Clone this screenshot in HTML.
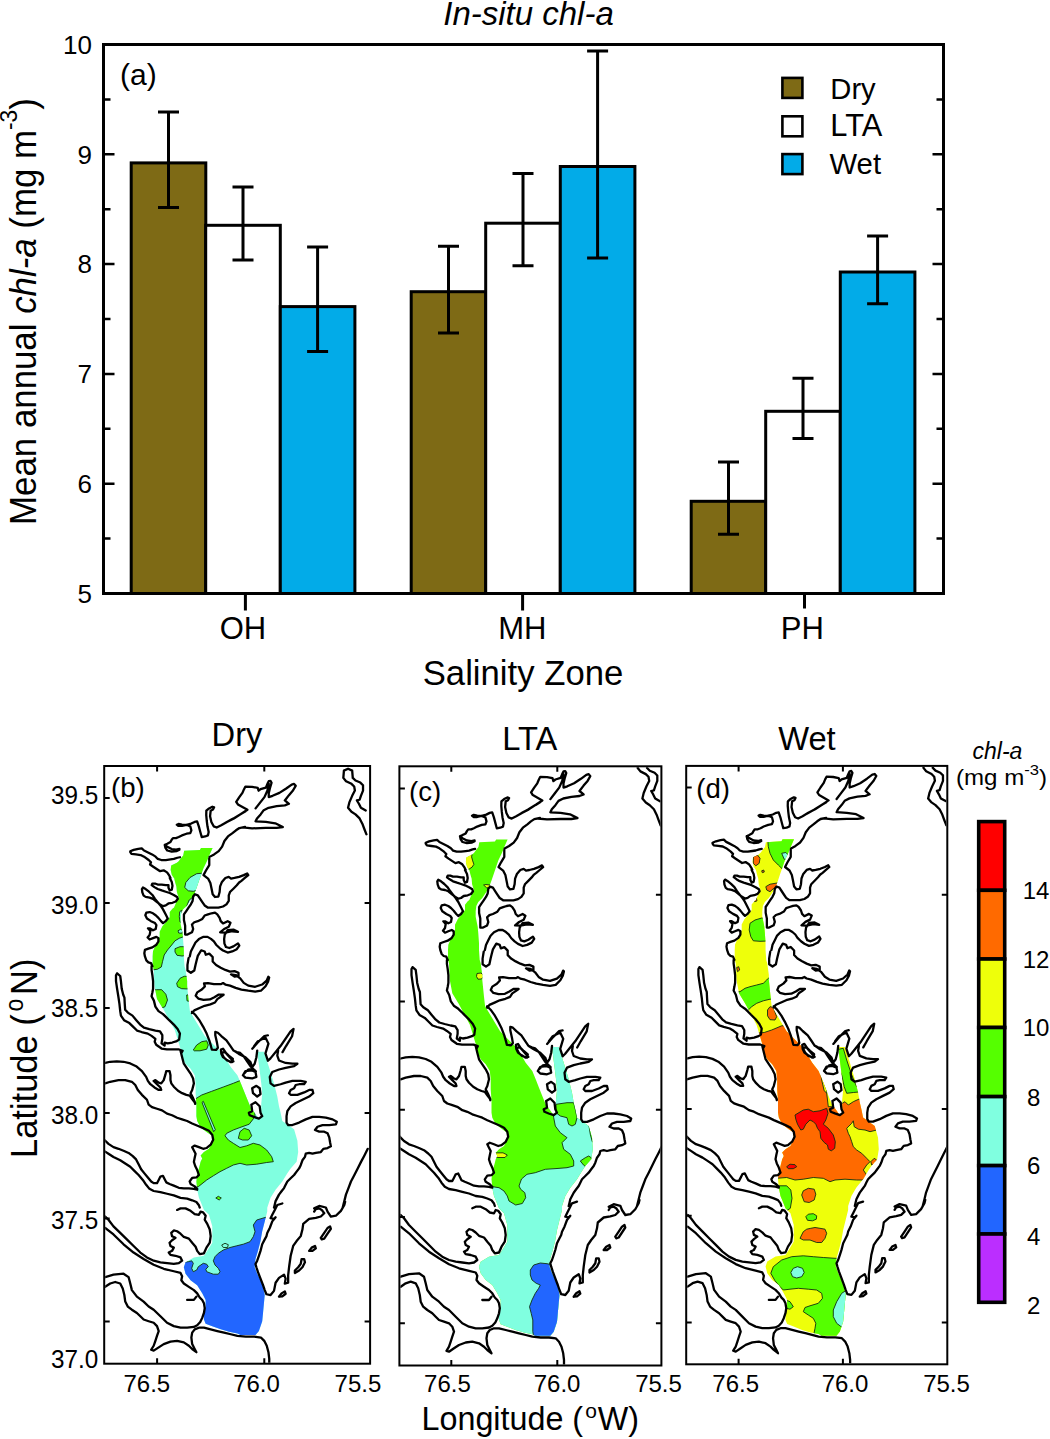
<!DOCTYPE html>
<html><head><meta charset="utf-8"><style>html,body{margin:0;padding:0;background:#fff;width:1050px;height:1439px;overflow:hidden}svg text{font-family:"Liberation Sans",sans-serif}</style></head><body>
<svg width="1050" height="1439" viewBox="0 0 1050 1439" style="position:absolute;left:0;top:0">
<rect width="1050" height="1439" fill="#fff"/>
<rect x="131.2" y="162.9" width="74.6" height="430.6" fill="#7E6A15" stroke="#000" stroke-width="3"/>
<rect x="205.7" y="225.3" width="74.6" height="368.2" fill="#fff" stroke="#000" stroke-width="3"/>
<rect x="280.3" y="306.6" width="74.6" height="286.9" fill="#02ABE8" stroke="#000" stroke-width="3"/>
<path d="M168.5 111.9V207.6M158.0 111.9h21M158.0 207.6h21" stroke="#000" stroke-width="3" fill="none"/>
<path d="M243.0 186.9V260.0M232.5 186.9h21M232.5 260.0h21" stroke="#000" stroke-width="3" fill="none"/>
<path d="M317.6 247.1V351.4M307.1 247.1h21M307.1 351.4h21" stroke="#000" stroke-width="3" fill="none"/>
<rect x="411.2" y="291.7" width="74.6" height="301.8" fill="#7E6A15" stroke="#000" stroke-width="3"/>
<rect x="485.7" y="223.2" width="74.6" height="370.3" fill="#fff" stroke="#000" stroke-width="3"/>
<rect x="560.3" y="166.5" width="74.6" height="427.0" fill="#02ABE8" stroke="#000" stroke-width="3"/>
<path d="M448.5 246.2V332.9M438.0 246.2h21M438.0 332.9h21" stroke="#000" stroke-width="3" fill="none"/>
<path d="M523.0 173.6V265.7M512.5 173.6h21M512.5 265.7h21" stroke="#000" stroke-width="3" fill="none"/>
<path d="M597.6 51.0V257.9M587.1 51.0h21M587.1 257.9h21" stroke="#000" stroke-width="3" fill="none"/>
<rect x="691.2" y="501.3" width="74.6" height="92.2" fill="#7E6A15" stroke="#000" stroke-width="3"/>
<rect x="765.7" y="411.3" width="74.6" height="182.2" fill="#fff" stroke="#000" stroke-width="3"/>
<rect x="840.3" y="272.0" width="74.6" height="321.5" fill="#02ABE8" stroke="#000" stroke-width="3"/>
<path d="M728.5 462.1V534.3M718.0 462.1h21M718.0 534.3h21" stroke="#000" stroke-width="3" fill="none"/>
<path d="M803.0 378.3V438.6M792.5 378.3h21M792.5 438.6h21" stroke="#000" stroke-width="3" fill="none"/>
<path d="M877.6 236.0V303.8M867.1 236.0h21M867.1 303.8h21" stroke="#000" stroke-width="3" fill="none"/>
<rect x="103.5" y="44.5" width="840" height="549" fill="none" stroke="#000" stroke-width="3"/>
<path d="M103.5 538.6h7M943.5 538.6h-7M103.5 483.7h11M943.5 483.7h-11M103.5 428.8h7M943.5 428.8h-7M103.5 373.9h11M943.5 373.9h-11M103.5 319.0h7M943.5 319.0h-7M103.5 264.1h11M943.5 264.1h-11M103.5 209.2h7M943.5 209.2h-7M103.5 154.3h11M943.5 154.3h-11M103.5 99.4h7M943.5 99.4h-7" stroke="#000" stroke-width="2.5" fill="none"/>
<path d="M245.4 593.5V610.5M522.6 593.5V610.5M804.5 593.5V608.5" stroke="#000" stroke-width="3" fill="none"/>
<text x="92" y="602.7" font-family="Liberation Sans, sans-serif" font-size="26" text-anchor="end">5</text>
<text x="92" y="492.9" font-family="Liberation Sans, sans-serif" font-size="26" text-anchor="end">6</text>
<text x="92" y="383.1" font-family="Liberation Sans, sans-serif" font-size="26" text-anchor="end">7</text>
<text x="92" y="273.3" font-family="Liberation Sans, sans-serif" font-size="26" text-anchor="end">8</text>
<text x="92" y="163.5" font-family="Liberation Sans, sans-serif" font-size="26" text-anchor="end">9</text>
<text x="92" y="53.7" font-family="Liberation Sans, sans-serif" font-size="26" text-anchor="end">10</text>
<text x="243" y="639" font-family="Liberation Sans, sans-serif" font-size="31" text-anchor="middle">OH</text>
<text x="522.4" y="639" font-family="Liberation Sans, sans-serif" font-size="31" text-anchor="middle">MH</text>
<text x="802.4" y="639" font-family="Liberation Sans, sans-serif" font-size="31" text-anchor="middle">PH</text>
<text x="523" y="684.5" font-family="Liberation Sans, sans-serif" font-size="34.7" text-anchor="middle">Salinity Zone</text>
<text x="528.5" y="24.7" font-family="Liberation Sans, sans-serif" font-size="33" font-style="italic" text-anchor="middle">In-situ chl-a</text>
<text x="120" y="84.7" font-family="Liberation Sans, sans-serif" font-size="30">(a)</text>
<text transform="translate(35.8,524.9) rotate(-90) scale(0.968,1)" font-family="Liberation Sans, sans-serif" font-size="36">Mean annual <tspan font-style="italic">chl-a</tspan> (mg m<tspan dy="-18.5" font-size="23.5">-3</tspan><tspan dy="18.5">)</tspan></text>
<rect x="782.4" y="77.9" width="20" height="20" fill="#7E6A15" stroke="#000" stroke-width="2.6"/>
<text x="830.3" y="99.3" font-family="Liberation Sans, sans-serif" font-size="29.2">Dry</text>
<rect x="782.4" y="116.3" width="20" height="20" fill="#fff" stroke="#000" stroke-width="2.6"/>
<text x="830.3" y="135.7" font-family="Liberation Sans, sans-serif" font-size="30.8">LTA</text>
<rect x="782.4" y="154.1" width="20" height="20" fill="#02ABE8" stroke="#000" stroke-width="2.6"/>
<text x="829.5" y="173.7" font-family="Liberation Sans, sans-serif" font-size="29.3">Wet</text>
<defs>
<path id="coast" d="M520.0 814.0 528.1 809.5 536.2 804.5 542.3 800.5 532.8 795.1 531.1 792.4 534.2 787.6 537.3 783.3 538.9 779.5 540.3 776.8 547.0 777.1 552.5 778.2 553.4 781.1 555.4 779.5 560.6 777.9 562.2 774.1 563.5 771.4 565.2 771.1 566.3 773.0 564.6 778.8 563.5 783.6 563.5 787.6 567.3 786.3 574.1 783.3 580.9 778.8 586.3 774.8 588.7 774.1 590.3 776.1 587.6 780.9 583.6 785.6 579.5 791.0 583.6 794.4 579.5 796.0 571.4 796.8 563.3 798.5 558.5 800.9 555.4 805.2 551.8 809.3 550.4 812.3 560.6 812.9 570.0 814.3 577.5 818.1 571.4 819.0 560.6 819.0 547.0 819.4 537.6 818.5M550.4 799.1 554.5 793.7 559.2 787.6 562.2 780.9 563.5 774.1M637.7 768.0 640.4 771.4 645.8 774.1 648.5 776.8 649.2 780.9 646.5 786.3 643.7 793.0 642.4 798.5 645.8 802.5 649.8 805.2 653.9 809.3 656.6 814.7 658.6 820.1 660.7 825.5M647.1 768.0 649.8 770.7 654.6 772.8 657.3 775.5 657.3 780.9 655.2 786.3 653.9 790.3 651.2 791.0 653.2 794.4 655.2 798.5 660.0 801.2M474.6 840.3 471.4 841.1 466.9 840.5 462.5 838.2 460.0 836.3 460.7 839.4 462.5 842.0 466.9 843.1 472.0 842.6 474.6 841.2M460.0 836.3 462.5 835.1 465.7 833.4 466.9 831.1 468.2 829.4 471.2 829.4 473.9 828.3 477.1 826.6 481.7 824.9 485.4 824.3 486.5 821.4 485.4 817.4 482.3 816.1 477.1 815.7 473.7 814.9 472.0 815.7 473.5 817.0 477.1 817.0 481.7 815.8 486.3 814.6 489.7 812.9 492.2 812.4 493.9 817.4 495.4 823.1 496.8 828.3 500.2 827.7 503.0 826.6 503.7 823.1 502.5 817.4 501.8 811.7 501.3 806.0 501.4 801.4 504.1 799.1 507.4 797.4 509.1 798.0 508.0 800.3 505.7 801.4 505.1 807.1 506.4 812.9 508.7 817.4 511.7 818.6 516.2 816.3 521.9 812.9 528.8 809.4 535.7 804.9 540.0 802.3M425.7 842.8 429.1 841.4 433.7 840.3 437.1 839.8 439.4 842.0 442.9 843.7 447.4 846.0 450.9 848.3 453.1 850.6 456.6 851.7 461.1 851.7 465.7 851.1 469.1 850.6 472.6 849.4 475.1 848.9M425.7 843.7 426.9 845.4 431.4 846.0 436.0 846.6 439.4 848.3 444.0 851.7 446.3 854.0 445.4 856.3 448.6 858.6 452.0 860.9 455.4 863.1 458.9 862.2 462.3 864.3 464.6 867.7 465.7 870.0M540.0 818.0 534.3 819.1 530.9 821.4 527.4 824.3 522.9 827.7 519.4 832.3 517.1 838.0 513.7 842.6 509.1 846.0 504.6 848.5M548.9 1041.3 552.7 1036.3 560.2 1032.5 563.2 1038.8 560.2 1048.8 562.7 1056.3 565.2 1053.8 575.2 1041.3 585.2 1026.3 588.2 1023.8 586.7 1031.3 580.7 1041.3 577.2 1047.5M400.7 1058.5 405.7 1057.3 412.3 1056.8 419.0 1057.3 425.7 1059.0 431.5 1061.8 437.3 1066.8 441.5 1072.7 443.2 1076.8 445.7 1080.2 449.8 1083.5 454.0 1086.0 456.5 1086.0 455.7 1083.5 452.3 1080.2 449.0 1076.8 450.7 1076.0 454.0 1078.5 456.5 1079.3 459.0 1076.0 460.7 1070.2 461.5 1066.8 464.8 1066.8 465.7 1071.0 465.7 1076.0 466.5 1079.3 469.0 1082.7 473.2 1086.8 477.3 1089.3 481.5 1091.0 484.8 1091.8 487.3 1095.2 489.8 1098.5 490.3 1100.2M475.7 1046.0 477.3 1052.7 479.0 1059.3 482.3 1064.3 485.7 1069.3 488.2 1074.3 489.0 1079.3 487.3 1086.0 485.7 1089.3 488.2 1094.3 490.3 1099.3M400.7 1079.3 405.7 1077.7 414.0 1076.0 420.7 1076.0 427.3 1077.7 430.7 1081.0 433.2 1086.0 437.3 1091.0 442.3 1096.0 444.0 1101.0 447.3 1103.5 452.3 1105.2 457.3 1106.8 462.3 1110.2 467.3 1111.8 472.3 1114.3 477.3 1116.0 482.3 1117.7 487.3 1120.2 493.2 1122.7 499.0 1125.2 504.0 1127.7 507.3 1131.8 508.2 1136.8 505.7 1141.8 501.5 1145.2 498.2 1146.0 494.0 1144.3 489.8 1142.7 487.3 1144.3 489.0 1147.7 490.7 1151.0 489.8 1155.2 489.0 1159.3 490.3 1163.5 492.3 1167.7 494.0 1172.7 491.5 1175.2 487.3 1175.7 484.8 1179.3 485.7 1181.8 489.8 1184.3 492.3 1186.8M399.0 1136.0 404.0 1141.0 409.0 1144.3 414.0 1146.0 419.0 1148.0 424.0 1150.2 428.2 1153.5 431.5 1156.8 434.0 1161.8 436.5 1166.8 439.8 1171.0 443.2 1175.2 446.5 1179.3 449.0 1181.0 452.3 1181.0 454.0 1177.7 455.7 1174.3 458.2 1173.5 459.8 1176.8 461.5 1180.2 464.8 1181.8 469.0 1183.5 474.0 1185.7 479.0 1186.3 484.0 1186.3 489.0 1186.8 492.3 1187.7M399.0 1147.7 404.0 1151.0 409.0 1154.3 415.7 1157.7 420.7 1161.0 425.7 1164.3 429.8 1168.5 434.0 1172.7 438.2 1177.7 441.5 1182.7 444.8 1186.8 449.0 1189.0 455.7 1190.2 462.3 1191.8 469.0 1193.5 475.7 1196.0 482.3 1196.8 487.3 1198.5 491.5 1200.2 494.0 1203.5 494.8 1206.0M572.8 1046.0 572.0 1051.0 573.7 1056.0 580.3 1058.5 587.0 1059.3 592.0 1059.3 588.7 1061.8 580.3 1063.5 573.7 1065.2 567.0 1067.7 564.5 1072.7 565.3 1079.3 568.7 1081.8 575.3 1080.2 580.3 1078.5 587.0 1076.8 595.3 1076.8 600.3 1077.7 598.7 1080.2 593.7 1080.2 590.3 1081.0 588.7 1084.3 585.3 1086.0 583.7 1089.3 585.3 1091.0 592.0 1091.0 598.7 1088.5 603.7 1086.0 607.0 1086.0 607.8 1089.3 603.7 1092.7 597.0 1096.0 590.3 1099.3 585.3 1102.7 582.0 1107.7 581.2 1112.7 581.2 1119.3 582.8 1121.8 587.0 1121.8 593.7 1119.3 600.3 1116.0 607.0 1113.5 613.7 1113.5 620.3 1114.3 627.0 1116.0 631.2 1118.5 630.3 1121.0 623.7 1121.8 617.0 1121.8 612.0 1123.5 609.5 1126.8 613.7 1128.5 618.7 1128.5 622.0 1130.2 623.7 1134.3 624.5 1139.3 625.3 1143.5 622.0 1145.2 617.8 1146.0 615.3 1149.3 610.3 1150.2 607.0 1151.0 603.7 1150.2 600.3 1151.0 599.5 1154.3 597.0 1157.7 595.3 1162.7 593.7 1166.0 591.2 1169.3 588.7 1172.7 585.3 1176.0 582.0 1179.3 580.3 1182.7 578.7 1186.0 576.2 1189.3 573.7 1192.7 572.0 1196.0 570.3 1199.3 569.5 1202.7 568.7 1206.0M662.0 1146.0 658.7 1152.7 655.3 1159.3 652.0 1166.0 648.7 1172.7 645.3 1179.3 642.8 1186.0 640.3 1192.7 638.7 1199.3 637.0 1206.0M400.7 1215.0 404.0 1218.3 409.0 1225.0 415.7 1231.7 422.3 1238.3 429.0 1245.0 435.7 1251.7 442.3 1256.7 449.0 1260.0 455.7 1261.7 462.3 1262.5 469.0 1263.3 474.0 1262.5 477.3 1260.0 475.7 1256.7 470.7 1255.0 465.7 1254.2 464.0 1251.7 467.3 1250.0 469.0 1246.7 465.7 1245.0 464.8 1241.7 467.3 1239.2 470.7 1236.7 467.3 1235.0 466.5 1231.7 469.0 1229.2 472.3 1230.0 475.7 1232.5 479.0 1235.8 484.0 1237.5 487.3 1241.7 490.7 1245.8 492.3 1250.0 494.8 1253.3 499.0 1252.5 501.5 1246.7 504.8 1241.7 505.7 1235.0 504.8 1228.3 502.3 1222.5 499.8 1218.3 500.7 1214.2 498.2 1210.8 495.7 1210.0 494.0 1213.3 489.8 1212.5 485.7 1209.2 480.7 1206.7 475.7 1206.7 472.3 1208.3M400.7 1226.7 409.0 1233.3 419.0 1243.3 429.0 1251.7 439.0 1258.3 449.0 1264.2 459.0 1268.3 469.0 1270.8 475.7 1272.5 477.3 1275.8 476.5 1280.0 479.0 1283.3 484.0 1286.7 489.0 1290.0 492.3 1293.3 494.8 1297.5 497.3 1300.0 499.0 1303.3 499.8 1308.3 499.0 1313.3 497.3 1318.3 495.3 1322.5 492.3 1325.8 489.0 1327.5 482.3 1328.3 475.7 1328.3 469.0 1326.7 462.3 1323.3 455.7 1316.7 449.0 1310.0 444.0 1306.7 439.0 1301.7 432.3 1296.7 427.3 1290.0 425.7 1283.3 424.0 1276.7 419.0 1273.3 409.0 1274.2 400.7 1276.7M400.7 1286.7 405.7 1283.3 410.7 1281.7 415.7 1283.3 418.2 1288.3 419.8 1295.0 420.7 1301.7 423.2 1306.7 427.3 1310.0 432.3 1313.3 435.7 1316.7 439.0 1320.0 444.0 1321.7 449.0 1323.3 452.3 1326.7 454.0 1331.7 452.3 1336.7 450.7 1341.7 449.0 1346.7 446.5 1350.8 449.0 1351.7 454.0 1348.3 459.0 1345.0 465.7 1342.5 472.3 1341.7 479.0 1343.3 484.0 1346.7 487.3 1350.0 491.5 1353.3 489.8 1350.0 487.3 1345.0 486.5 1338.3 487.3 1333.3 489.8 1330.0 494.0 1328.3 499.0 1328.3 505.7 1330.0 512.3 1331.7 519.0 1333.3 525.7 1335.0 532.3 1336.7 540.7 1337.5 549.0 1337.5 555.7 1338.3 559.0 1341.7 561.5 1346.7 563.2 1353.3 564.0 1360.0 564.0 1365.0M482.3 1300.0 489.0 1300.0 491.5 1296.7M577.0 1201.7 572.0 1203.3 569.5 1208.3 567.0 1213.3 565.3 1216.7 568.7 1217.5 570.3 1215.8 567.0 1220.0 564.5 1226.7 562.0 1231.7 561.2 1235.0 559.5 1238.3 557.0 1243.3 555.3 1250.0 553.7 1255.0 552.0 1260.0 550.3 1263.3 551.2 1266.7 552.8 1271.7 555.3 1278.3 557.8 1285.0 559.5 1290.0 561.2 1294.2 565.3 1295.0 568.7 1290.8 570.3 1282.5 573.7 1277.5 578.7 1274.2 580.3 1278.3 579.5 1283.3 582.8 1282.5 582.8 1275.0 583.7 1266.7 585.3 1255.0 587.8 1245.0 591.2 1240.0 595.3 1235.0 597.0 1228.3 597.8 1222.5 603.7 1217.5 610.3 1216.3 615.3 1215.0 618.7 1211.7 616.2 1208.3 613.7 1206.7 610.3 1207.5 608.7 1210.0M608.7 1206.7 613.7 1204.2 620.3 1205.8 622.0 1210.0 625.3 1215.0 630.3 1214.2 635.3 1209.2 638.7 1203.3 639.5 1200.0M615.3 1236.7 618.7 1231.7 622.0 1226.7 624.5 1225.0 625.3 1227.5 622.0 1232.5 618.7 1237.5 616.2 1238.3 615.3 1236.7M603.7 1250.0 606.2 1246.7 609.5 1245.0 610.3 1247.5 607.0 1250.0 603.7 1250.0M589.5 1272.5 593.7 1270.0 597.0 1266.7 599.5 1261.7 598.7 1258.3 596.2 1258.3 595.3 1263.3 592.8 1266.7 589.5 1270.0 589.5 1272.5M573.7 1296.7 576.2 1293.3 579.5 1291.3 580.3 1293.7 577.0 1296.3 573.7 1296.7M465.0 870.0 467.0 874.0 467.7 878.0 467.0 882.0 465.0 882.7 463.7 880.0 463.7 877.3 461.0 877.3 457.0 876.7 453.0 876.7 450.3 875.7 447.7 875.7 447.0 877.3 449.7 879.3 453.0 881.3 457.0 882.7 461.0 884.0 465.0 885.3 469.0 887.3 472.3 889.3 473.0 891.3 471.0 894.0 467.7 895.3 463.7 896.0 461.0 898.0 458.3 898.7 455.0 896.7 451.7 894.0 448.3 891.3 445.0 890.0 441.0 889.3 439.0 888.0 437.7 884.7 437.3 881.3 438.3 879.7 441.0 881.3 444.3 884.0 447.7 887.3 450.3 891.3 453.0 894.7 455.7 898.0 458.3 902.0 461.0 907.3 463.0 911.3 461.0 914.0 458.3 916.0 456.3 914.0 453.7 910.7 451.0 908.0 448.3 906.0 445.0 904.7 441.7 905.3 440.7 908.0 442.3 911.3 446.3 914.0 450.3 916.0 451.7 918.0 451.0 922.0 448.3 923.3 445.0 921.3 443.3 921.3 445.7 924.0 445.0 928.0 443.0 930.7 445.0 932.7 448.3 931.3 451.7 930.0 453.7 931.3 453.7 934.7 451.7 938.0 447.7 940.7 443.7 942.0 440.3 943.3 439.7 946.7 440.3 950.0 441.7 954.0 443.7 956.0 446.3 956.7 447.7 960.0M412.6 967.2 411.5 969.1 411.5 975.2 412.6 982.9 413.8 990.5 414.9 998.1 415.7 1005.7 416.4 1010.3 419.5 1014.9 424.8 1017.9 427.9 1021.0 432.4 1025.5 437.0 1027.0 443.1 1028.6 446.9 1030.9 450.7 1033.9 450.0 1037.0 451.5 1040.0 456.8 1043.8 462.1 1044.6 473.6 1044.6 477.8 1046.1 476.6 1048.4M412.6 967.2 415.7 969.9 416.4 975.2 417.2 982.9 418.7 989.0 419.9 992.0 420.2 998.1 420.6 1004.2 423.3 1007.2 427.9 1010.3 431.7 1014.9 435.5 1019.4 439.3 1022.5 444.6 1024.0 450.7 1025.5 455.3 1026.3 457.6 1030.1 457.6 1033.9 456.8 1038.5 459.9 1040.8 459.9 1037.7 462.9 1038.5 467.5 1037.7 472.0 1036.2 474.3 1034.7 475.1 1028.6 472.8 1024.0 469.0 1019.4 464.4 1014.9 461.4 1011.8 458.3 1008.8 453.8 1005.7 450.7 1001.1 449.2 995.0 446.9 990.5 447.7 986.7 448.4 982.9 448.4 975.2 447.7 969.1 446.9 963.8 446.9 960.0M516.2 1047.7 518.7 1052.7 522.0 1056.0 527.0 1057.7 527.8 1054.3 523.7 1051.0 520.3 1047.7 516.2 1047.7M528.7 1046.0 533.7 1049.3 540.3 1052.7 545.3 1057.7 547.0 1062.7 549.5 1059.3 551.2 1052.7 552.0 1046.0M537.8 1071.0 540.3 1066.8 546.2 1066.0 550.3 1067.7 551.2 1072.7 547.0 1074.3 540.3 1073.5 537.8 1071.0M547.0 1084.3 551.2 1081.8 554.5 1084.3 555.3 1090.2 552.0 1092.7 547.8 1089.3 547.0 1084.3M546.2 1101.0 550.3 1098.5 554.5 1102.7 555.3 1109.3 557.0 1112.7 553.7 1115.2 548.7 1113.5 544.5 1111.8 543.7 1109.3 547.0 1107.7 546.2 1101.0M487.1 1006.3 490.6 1009.7 494.9 1015.7 498.3 1021.7 501.7 1028.6 504.3 1035.4 506.0 1041.4 506.9 1044.9 511.1 1045.3 512.9 1043.1 512.0 1038.0 510.3 1030.3 510.3 1026.9 512.9 1027.7 516.3 1031.1 521.4 1035.4 524.9 1040.6 528.3 1045.7 531.7 1047.4 535.1 1048.3 538.6 1051.7 542.0 1056.9 545.4 1062.0 547.1 1063.7 550.6 1067.1M515.9 1044.9 518.0 1044.0 521.4 1049.1 526.6 1055.1 528.3 1056.9 525.7 1057.7 521.4 1055.1 518.0 1052.6 516.3 1049.1 515.9 1044.9M547.1 1044.0 552.3 1038.0 559.1 1031.1 562.6 1030.3M538.6 1069.7 542.9 1065.4 547.1 1064.6 550.6 1067.1M504.3 850.0 504.3 856.9 500.9 862.6 498.6 867.1 503.1 870.6 505.4 875.1 506.6 880.9 507.7 886.6 510.0 889.4 513.4 888.9 514.6 884.3 515.1 878.6 516.9 874.0 520.3 870.0 523.7 868.9 526.0 870.6 529.4 870.0 534.0 868.9 538.6 867.1 542.0 865.4 543.1 867.1 539.7 870.0 536.3 872.9 534.0 874.6 531.7 877.4 528.3 880.9 524.9 884.3 523.7 887.7 523.7 893.4 521.4 896.9 518.0 899.1 513.4 900.3 507.7 900.3 503.1 900.3 499.7 898.0 497.4 894.6 495.1 891.1 492.9 887.7 490.0 886.6 488.3 888.9 487.7 893.4 486.0 896.9 483.7 900.3 481.4 903.7 479.1 907.1 479.1 912.9 480.3 918.6 480.3 924.3 480.3 927.7 482.6 927.7 487.1 925.4 488.3 922.0 487.1 917.4 489.4 915.1 492.9 914.0 497.4 911.7 499.7 908.3 503.1 907.1 506.6 906.0 510.0 905.4 512.3 907.1 514.6 910.6 515.7 914.0 518.0 916.3 522.6 914.0 525.4 915.7 523.7 919.7 519.1 922.0 515.1 925.4 520.3 925.7 527.1 924.3 532.9 924.9 528.3 922.6 522.6 923.1 519.7 927.7 519.1 932.3 519.4 936.9 520.9 940.3 524.3 941.4 528.3 939.7 532.9 936.6 534.2 938.9 531.7 942.6 527.1 944.9 522.6 946.0 518.0 943.9 514.6 941.4 511.1 938.0 508.9 934.6 506.0 932.1 502.6 930.0 498.6 930.0 494.0 932.3 490.6 935.7 488.3 940.3 486.0 944.9 484.9 950.0M483.7 951.7 482.6 958.6 482.6 964.3 486.0 966.6 489.4 964.3 490.6 958.6 491.7 954.0 492.9 949.4 496.3 943.7 499.7 944.9 500.9 948.3 504.3 947.1 507.7 950.6 507.7 955.1 511.1 958.6 515.7 961.4 520.3 963.7 524.9 965.4 529.4 964.9 533.4 966.6 533.4 970.0 529.4 970.6 526.0 968.3 530.6 968.9 535.1 972.3 538.6 976.9 543.1 979.7 550.0 980.9 556.9 978.6 561.4 974.6 563.1 970.6 563.9 971.4 562.8 975.7 560.3 980.3 555.7 984.9 550.0 985.8 543.1 984.9 536.3 983.7 530.6 982.0 524.9 979.7 520.3 978.6 518.0 977.1 515.7 978.2 508.9 978.2 503.1 977.1 499.1 977.4 499.9 980.5 496.9 983.7 492.3 986.6 490.8 990.0 493.4 992.9 498.6 994.2 504.9 993.8 509.4 991.5 513.4 989.0 518.6 989.0 515.7 991.1 512.3 993.4 510.0 996.9 505.4 998.8 499.7 1000.3 494.6 1002.6 489.4 1004.9 487.1 1007.7M647.1 768.0 646.5 760.6 642.4 758.6 638.3 760.6 637.7 768.0" fill="none" stroke="#000" stroke-width="2.3" stroke-linejoin="round" stroke-linecap="round"/>
<path id="domain" d="M479.3 842.3 495.0 841.4 496.1 839.4 507.6 839.4 504.7 846.0 501.9 852.9 498.4 860.3 496.1 867.1 493.9 873.4 491.6 880.3 489.3 886.6 486.3 892.0 482.3 898.0 478.3 902.0 476.3 906.0 475.7 911.3 475.7 916.7 477.7 926.7 478.3 933.3 479.0 943.3 479.0 950.0 479.7 960.0 480.7 963.3 482.3 975.0 482.3 980.0 484.0 996.7 485.1 1006.2 500.1 1031.3 517.6 1048.8 525.7 1062.7 532.3 1071.0 535.7 1079.3 539.0 1087.7 542.3 1096.0 545.7 1104.3 550.7 1111.0 554.0 1116.0 556.0 1112.0 556.0 1100.0 557.0 1090.0 556.0 1079.0 554.0 1063.0 552.0 1047.0 558.7 1047.0 563.7 1062.7 568.7 1079.3 572.0 1092.7 573.7 1102.7 575.3 1109.3 577.0 1117.7 588.7 1126.0 592.0 1137.7 592.8 1149.3 591.2 1159.3 585.3 1166.0 582.0 1171.0 577.0 1179.3 570.3 1187.7 565.3 1196.0 562.0 1206.0 562.0 1210.0 559.5 1220.0 557.0 1230.0 555.3 1240.0 552.8 1250.0 550.3 1258.3 549.5 1266.7 552.0 1273.3 555.3 1280.0 557.8 1286.7 559.5 1295.0 558.7 1303.3 557.8 1313.3 557.0 1321.7 553.7 1331.7 550.3 1335.8 535.3 1335.8 532.3 1334.2 524.0 1332.5 515.7 1330.0 507.3 1326.7 500.7 1324.2 499.0 1320.0 499.0 1313.3 500.7 1306.7 500.7 1300.0 497.3 1293.3 492.3 1285.0 485.7 1280.0 480.7 1273.3 479.0 1266.7 480.7 1261.7 489.0 1256.7 499.0 1255.0 502.3 1250.0 507.3 1241.7 507.3 1225.0 504.0 1213.3 499.0 1208.3 495.7 1200.0 494.0 1196.0 492.3 1187.7 491.5 1179.3 492.3 1172.7 494.0 1166.0 495.7 1159.3 497.3 1156.0 495.7 1152.7 499.0 1149.3 504.0 1146.0 507.3 1139.3 507.3 1132.7 502.3 1129.3 495.7 1124.3 492.3 1117.7 491.5 1112.7 491.5 1101.0 490.7 1089.3 490.7 1079.3 489.8 1071.0 485.7 1064.3 480.7 1059.3 477.3 1052.7 476.3 1046.0 470.0 1025.0 458.8 1004.0 452.3 993.3 449.8 980.0 449.0 963.3 448.0 960.0 448.0 950.0 448.3 944.7 450.3 940.0 453.0 935.3 455.0 930.0 455.0 924.7 457.7 919.3 461.0 915.3 465.0 910.0 465.0 904.7 467.7 901.3 469.3 900.0 471.6 894.6 473.9 890.0 472.1 884.3 471.6 878.6 470.4 874.6 469.3 870.0 468.7 869.4 467.0 866.6 465.9 862.0 466.4 857.4 472.1 854.6 473.9 852.9 476.1 850.0 478.4 847.1Z"/>
<clipPath id="frc"><rect x="400.4" y="767.3" width="260" height="597.2"/></clipPath>
<clipPath id="frb"><rect x="105.2" y="767" width="263.9" height="595.7"/></clipPath>
<clipPath id="frd"><rect x="687.2" y="766.9" width="259.1" height="596.4"/></clipPath>
<clipPath id="dc"><use href="#domain"/></clipPath>
<clipPath id="db"><use href="#domain" transform="matrix(1.005 0 0 0.9813 -297.56 24.24)"/></clipPath>
<clipPath id="dd"><use href="#domain" transform="matrix(0.995 0 0 1 288.96 -0.1)"/></clipPath>
</defs>
<g clip-path="url(#frb)">
<use href="#domain" transform="matrix(1.005 0 0 0.9813 -297.56 24.24)" fill="#80FFE0"/>
<g clip-path="url(#db)">
<path d="M181.7 845.0 215.0 845.0 215.0 894.2 197.5 895.8 192.5 897.5 189.2 900.0 187.5 904.2 185.3 910.0 183.0 916.7 182.0 923.3 182.7 930.0 183.7 936.7 179.2 938.3 175.0 940.8 171.7 945.0 167.5 950.0 164.2 955.0 162.5 961.7 161.3 967.0 157.5 969.2 146.7 970.8 146.7 845.0Z" fill="#55FF00" stroke="#103010" stroke-width="0.9"/>
<path d="M184.7 887.5 185.8 882.5 190.0 877.5 196.7 873.7 211.7 872.5 211.7 886.7 197.5 890.0 193.3 891.3 188.3 890.8Z" fill="#80FFE0" stroke="#103010" stroke-width="0.9"/>
<path d="M178.0 930.8 180.8 929.2 183.0 930.8 181.7 933.3 178.7 933.0Z" fill="#80FFE0" stroke="#103010" stroke-width="0.9"/>
<path d="M179.7 911.7 181.7 910.3 182.7 916.7 181.7 922.7 180.0 922.0 179.3 916.7Z" fill="#80FFE0" stroke="#103010" stroke-width="0.9"/>
<path d="M175.0 948.7 180.0 946.7 190.0 946.7 190.0 955.0 182.0 956.0 177.0 955.3 175.0 952.0Z" fill="#55FF00" stroke="#103010" stroke-width="0.9"/>
<path d="M176.7 983.3 180.0 978.3 184.2 976.3 193.3 976.3 193.3 989.2 181.7 988.7 177.5 986.7Z" fill="#55FF00" stroke="#103010" stroke-width="0.9"/>
<path d="M156.7 989.7 161.7 989.7 165.8 994.2 167.5 1000.0 165.0 1006.7 160.0 1008.7 146.7 1008.7 146.7 989.7Z" fill="#55FF00" stroke="#103010" stroke-width="0.9"/>
<path d="M186.7 995.0 193.3 994.2 193.3 1002.5 187.0 1000.8Z" fill="#55FF00" stroke="#103010" stroke-width="0.9"/>
<path d="M193.3 1050.0 196.7 1045.0 201.7 1041.7 206.7 1040.8 208.3 1045.0 206.7 1049.2 200.0 1050.8 194.2 1050.8Z" fill="#55FF00" stroke="#103010" stroke-width="0.9"/>
<path d="M195.0 1099.2 201.7 1095.0 211.7 1091.3 223.3 1087.0 233.3 1083.3 240.8 1080.3 253.3 1078.3 255.0 1116.7 249.2 1124.2 240.0 1127.5 233.3 1130.0 226.7 1133.3 225.0 1135.8 228.3 1140.0 233.3 1143.3 240.0 1147.5 246.7 1145.8 253.3 1143.3 260.0 1145.0 266.7 1150.0 271.7 1156.7 273.3 1161.7 266.7 1162.5 256.7 1164.2 246.7 1165.0 240.0 1163.3 233.3 1165.0 226.7 1168.3 220.0 1171.7 213.3 1175.8 206.7 1180.0 198.3 1186.7 186.7 1188.3 186.7 1099.2Z" fill="#55FF00" stroke="#103010" stroke-width="0.9"/>
<path d="M202.0 1102.5 203.3 1101.3 215.3 1129.7 213.7 1131.7Z" fill="#80FFE0" stroke="#103010" stroke-width="0.9"/>
<path d="M238.3 1138.3 240.0 1131.7 244.2 1128.3 249.2 1130.0 251.7 1135.8 248.3 1140.0 242.5 1140.0Z" fill="#55FF00" stroke="#103010" stroke-width="0.9"/>
<path d="M215.8 1198.0 218.3 1196.3 221.3 1198.0 219.2 1200.0Z" fill="#55FF00" stroke="#103010" stroke-width="0.9"/>
<path d="M276.7 1215.0 265.0 1217.5 256.7 1220.0 253.3 1225.0 255.0 1231.7 253.3 1236.7 250.0 1241.7 243.3 1244.2 236.7 1245.8 230.0 1247.5 223.3 1250.0 218.3 1253.3 215.0 1256.7 213.3 1260.8 215.0 1265.0 218.3 1268.3 220.0 1271.7 218.3 1274.2 213.3 1274.2 206.7 1271.7 205.8 1269.2 208.3 1266.7 206.7 1264.2 203.3 1263.3 198.3 1266.7 196.7 1270.0 193.3 1271.7 191.7 1268.3 193.3 1263.3 191.7 1260.8 188.3 1261.7 173.3 1263.3 173.3 1353.3 281.7 1353.3 281.7 1215.0Z" fill="#2266FF" stroke="#103010" stroke-width="0.9"/>
<path d="M221.7 1245.0 225.0 1243.3 228.3 1244.7 227.5 1247.5 223.3 1247.5Z" fill="#80FFE0" stroke="#103010" stroke-width="0.9"/>
</g>
<use href="#coast" transform="matrix(1.005 0 0 0.9813 -297.56 24.24)"/>
</g>
<g clip-path="url(#frc)">
<use href="#domain" fill="#55FF00"/>
<g clip-path="url(#dc)">
<path d="M470.0 1186.8 493.2 1186.8 499.0 1187.7 504.0 1191.0 507.3 1196.0 509.0 1201.0 515.7 1205.0 522.3 1203.5 525.7 1197.7 524.8 1192.7 520.7 1189.3 519.0 1186.0 521.5 1179.0 527.0 1174.3 535.3 1172.7 545.3 1169.3 557.0 1168.5 567.0 1167.7 573.7 1166.0 573.7 1161.0 570.3 1154.3 563.7 1149.3 562.0 1142.7 567.0 1137.7 560.3 1132.7 555.3 1126.0 553.7 1117.7 551.5 1100.0 549.0 1040.0 600.0 1040.0 620.0 1200.0 620.0 1360.0 470.0 1360.0Z" fill="#80FFE0" stroke="#103010" stroke-width="0.9"/>
<path d="M556.0 1104.3 567.0 1102.7 573.7 1102.7 575.3 1109.3 577.0 1117.7 575.3 1124.3 572.0 1126.0 568.7 1124.3 567.0 1117.7 560.3 1116.0 556.0 1112.7Z" fill="#55FF00" stroke="#103010" stroke-width="0.9"/>
<path d="M589.0 1126.0 591.2 1126.3 592.8 1134.3 593.7 1142.7 592.3 1141.8 590.3 1134.3Z" fill="#55FF00" stroke="#103010" stroke-width="0.9"/>
<path d="M580.3 1161.0 585.3 1157.7 588.7 1156.0 591.2 1157.7 592.0 1162.7 590.3 1166.0 587.0 1167.7 583.7 1165.2Z" fill="#55FF00" stroke="#103010" stroke-width="0.9"/>
<path d="M472.1 854.6 471.6 856.9 472.7 860.9 473.9 864.3 472.1 867.1 468.7 869.4 460.0 869.0 460.0 854.0Z" fill="#EEFF0A" stroke="#103010" stroke-width="0.9"/>
<path d="M483.6 885.0 486.0 884.5 490.0 885.0 490.0 888.0 486.5 887.7Z" fill="#EEFF0A" stroke="#103010" stroke-width="0.9"/>
<path d="M477.0 973.5 481.0 973.0 484.0 976.0 481.5 979.0 478.0 979.2 476.5 976.5Z" fill="#EEFF0A" stroke="#103010" stroke-width="0.9"/>
<path d="M490.0 1153.0 503.0 1152.8 507.3 1155.0 505.0 1157.5 498.0 1157.5 490.0 1156.0Z" fill="#EEFF0A" stroke="#103010" stroke-width="0.9"/>
<path d="M530.3 1270.0 533.7 1265.0 540.3 1263.0 547.0 1263.7 560.0 1266.7 570.0 1300.0 565.0 1345.0 535.3 1345.0 532.8 1331.7 532.8 1320.0 531.2 1313.3 529.5 1306.7 532.0 1300.0 535.3 1293.3 538.7 1288.3 540.3 1285.0 536.2 1283.3 532.0 1280.0 530.3 1275.0Z" fill="#2266FF" stroke="#103010" stroke-width="0.9"/>
</g>
<use href="#coast"/>
</g>
<g clip-path="url(#frd)">
<use href="#domain" transform="matrix(0.995 0 0 1 288.96 -0.1)" fill="#EEFF0A"/>
<g clip-path="url(#dd)">
<path d="M767.5 836.7 800.0 835.0 800.0 871.7 784.2 870.8 778.3 865.0 773.3 860.0 770.0 853.3 768.3 846.7Z" fill="#55FF00" stroke="#103010" stroke-width="0.9"/>
<path d="M781.7 853.3 785.8 852.5 788.3 855.0 786.7 860.0 784.2 859.2Z" fill="#80FFE0" stroke="#103010" stroke-width="0.9"/>
<path d="M753.3 856.7 757.5 855.0 760.0 858.3 759.2 863.3 755.8 865.8 753.3 863.3Z" fill="#FF6A00" stroke="#103010" stroke-width="0.9"/>
<path d="M765.8 886.7 770.0 884.2 780.0 882.5 780.0 887.5 773.3 888.7 770.0 891.7 766.7 890.0Z" fill="#FF6A00" stroke="#103010" stroke-width="0.9"/>
<path d="M761.7 870.8 763.7 870.0 764.3 872.0 762.3 872.7Z" fill="#FF6A00" stroke="#103010" stroke-width="0.9"/>
<path d="M754.2 899.2 756.3 897.5 757.0 900.8 754.7 901.7Z" fill="#FF6A00" stroke="#103010" stroke-width="0.9"/>
<path d="M736.7 967.5 738.7 966.7 739.7 970.0 737.5 971.7Z" fill="#FF6A00" stroke="#103010" stroke-width="0.9"/>
<path d="M750.0 923.3 755.0 920.0 761.7 918.0 773.3 918.0 773.3 940.8 760.0 941.3 753.3 940.8 750.8 936.7 749.2 930.0Z" fill="#55FF00" stroke="#103010" stroke-width="0.9"/>
<path d="M740.0 991.7 745.0 988.3 750.0 986.7 756.7 985.0 763.3 983.3 766.7 980.0 770.0 976.7 780.0 976.7 780.0 999.2 770.0 999.2 763.3 1000.8 756.7 1003.3 751.7 1006.7 748.3 1010.0 745.0 1013.3 726.7 1013.3 726.7 991.7Z" fill="#55FF00" stroke="#103010" stroke-width="0.9"/>
<path d="M767.5 1010.0 770.0 1006.7 773.3 1007.5 776.7 1016.7 775.0 1020.0 770.0 1019.7 767.5 1015.8Z" fill="#FF6A00" stroke="#103010" stroke-width="0.9"/>
<path d="M745.0 1034.2 764.2 1032.5 771.7 1030.0 781.7 1025.8 803.3 1025.0 820.0 1071.7 822.0 1073.3 826.7 1093.3 828.3 1106.7 836.7 1106.7 845.0 1101.7 848.3 1105.0 853.3 1101.7 860.8 1098.3 873.3 1093.3 873.3 1116.7 886.7 1126.7 886.7 1130.0 876.7 1130.0 870.0 1131.7 865.0 1130.0 858.3 1129.2 854.2 1126.7 853.3 1120.8 851.7 1123.3 846.7 1128.3 848.3 1133.3 850.0 1136.7 851.7 1141.7 853.3 1146.7 856.7 1150.0 861.7 1153.3 866.7 1158.3 870.0 1161.7 866.7 1165.0 863.3 1170.0 866.7 1175.0 863.3 1180.0 856.7 1180.0 845.0 1179.2 835.0 1180.0 830.0 1181.7 823.3 1178.3 813.3 1177.5 803.3 1179.2 795.0 1180.0 786.7 1177.5 776.7 1178.3 745.0 1179.2Z" fill="#FF6A00" stroke="#103010" stroke-width="0.9"/>
<path d="M820.8 1073.3 822.5 1071.7 826.7 1086.7 827.0 1093.3 824.2 1090.8 821.7 1080.0Z" fill="#EEFF0A" stroke="#103010" stroke-width="0.9"/>
<path d="M795.0 1115.0 803.3 1110.0 808.3 1109.2 813.3 1111.7 820.0 1110.8 826.7 1108.3 828.0 1113.3 825.8 1120.0 823.3 1124.2 828.3 1128.3 833.3 1135.0 835.3 1141.7 834.7 1148.3 831.3 1150.8 828.3 1149.2 827.5 1145.0 824.2 1142.5 820.8 1138.3 820.0 1131.7 817.5 1128.3 815.8 1124.2 813.3 1121.7 810.0 1120.0 805.8 1124.2 803.3 1129.2 800.8 1130.0 797.5 1124.2 795.8 1119.2Z" fill="#FF0000" stroke="#103010" stroke-width="0.9"/>
<path d="M786.7 1166.7 790.0 1164.2 795.0 1164.7 796.7 1166.7 793.3 1168.7 788.3 1168.7Z" fill="#FF0000" stroke="#103010" stroke-width="0.9"/>
<path d="M835.0 1050.0 843.3 1048.3 846.7 1060.0 851.7 1075.0 856.7 1086.7 861.7 1091.7 853.3 1092.5 846.7 1093.3 844.2 1086.7 841.7 1075.0 836.7 1063.3Z" fill="#55FF00" stroke="#103010" stroke-width="0.9"/>
<path d="M870.8 1161.7 874.2 1158.3 876.7 1160.0 875.0 1164.2 871.7 1165.0Z" fill="#FF6A00" stroke="#103010" stroke-width="0.9"/>
<path d="M780.0 1185.8 786.7 1185.8 790.8 1190.0 792.0 1198.3 790.3 1208.3 786.7 1210.8 770.0 1210.8 770.0 1185.8Z" fill="#55FF00" stroke="#103010" stroke-width="0.9"/>
<path d="M801.7 1195.0 803.3 1190.8 808.3 1188.3 814.2 1189.2 815.8 1194.2 814.2 1200.0 809.2 1202.5 804.2 1201.7Z" fill="#FF6A00" stroke="#103010" stroke-width="0.9"/>
<path d="M805.8 1216.7 808.3 1214.2 813.3 1213.7 816.7 1215.8 816.3 1219.2 812.5 1220.8 807.5 1220.3Z" fill="#55FF00" stroke="#103010" stroke-width="0.9"/>
<path d="M800.0 1238.3 803.3 1231.7 806.7 1229.2 810.8 1228.3 815.0 1227.5 820.0 1228.3 825.0 1229.2 826.7 1233.3 825.0 1238.3 821.7 1242.5 816.7 1242.5 810.0 1240.0 803.3 1240.0Z" fill="#FF6A00" stroke="#103010" stroke-width="0.9"/>
<path d="M770.8 1273.3 773.3 1266.7 781.7 1260.0 791.7 1256.7 803.3 1255.8 813.3 1256.7 823.3 1257.5 835.0 1258.3 853.3 1258.3 853.3 1336.7 813.3 1336.7 815.0 1328.3 815.8 1323.3 813.3 1318.3 808.3 1315.0 803.3 1311.7 805.0 1307.5 810.0 1305.8 818.3 1303.3 822.5 1298.3 821.7 1293.3 816.7 1290.0 808.3 1289.2 798.3 1288.3 790.0 1289.2 783.3 1290.0 780.0 1286.7 775.0 1280.8Z" fill="#55FF00" stroke="#103010" stroke-width="0.9"/>
<path d="M790.8 1272.5 793.3 1268.3 797.5 1266.7 802.5 1268.3 804.2 1272.5 801.7 1276.7 796.7 1278.0 792.5 1276.7Z" fill="#80FFE0" stroke="#103010" stroke-width="0.9"/>
<path d="M833.3 1310.0 836.7 1301.7 841.7 1293.3 846.7 1290.0 853.3 1290.0 853.3 1330.0 843.3 1328.3 836.7 1323.3 833.3 1316.7Z" fill="#80FFE0" stroke="#103010" stroke-width="0.9"/>
<path d="M785.8 1300.0 790.0 1301.7 793.3 1306.7 790.0 1309.2 786.3 1308.3Z" fill="#55FF00" stroke="#103010" stroke-width="0.9"/>
</g>
<use href="#coast" transform="matrix(0.995 0 0 1 288.96 -0.1)"/>
</g>
<path d="M104.2 797.9h5.5M104.2 903h5.5M370.1 903h-5.5M104.2 1008h5.5M104.2 1113h5.5M370.1 1113h-5.5M104.2 1218.5h5.5M104.2 1321.5h5.5M370.1 1321.5h-5.5M157.1 766v5.5M157.1 1363.7v-5.5M264.3 766v5.5M264.3 1363.7v-5.5" stroke="#000" stroke-width="2" fill="none"/>
<path d="M399.4 788.4h5.5M399.4 894.8h5.5M661.4 894.8h-5.5M399.4 1001.6h5.5M399.4 1109.7h5.5M661.4 1109.7h-5.5M399.4 1217h5.5M399.4 1323.3h5.5M661.4 1323.3h-5.5M451.3 766.3v5.5M451.3 1365.5v-5.5M557.3 766.3v5.5M557.3 1365.5v-5.5" stroke="#000" stroke-width="2" fill="none"/>
<path d="M686.2 787.6h5.5M686.2 894.8h5.5M947.3 894.8h-5.5M686.2 1001.6h5.5M686.2 1108.9h5.5M947.3 1108.9h-5.5M686.2 1215.7h5.5M686.2 1322.5h5.5M947.3 1322.5h-5.5M738.6 765.9v5.5M738.6 1364.3v-5.5M842.9 765.9v5.5M842.9 1364.3v-5.5" stroke="#000" stroke-width="2" fill="none"/>
<rect x="104.2" y="766" width="265.9" height="597.7" fill="none" stroke="#000" stroke-width="2"/>
<rect x="399.4" y="766.3" width="262.0" height="599.2" fill="none" stroke="#000" stroke-width="2"/>
<rect x="686.2" y="765.9" width="261.1" height="598.4" fill="none" stroke="#000" stroke-width="2"/>
<text transform="translate(98.3,803.6) scale(0.935,1)" font-family="Liberation Sans, sans-serif" font-size="26" text-anchor="end">39.5</text>
<text transform="translate(98.3,913.5) scale(0.935,1)" font-family="Liberation Sans, sans-serif" font-size="26" text-anchor="end">39.0</text>
<text transform="translate(98.3,1017.4) scale(0.935,1)" font-family="Liberation Sans, sans-serif" font-size="26" text-anchor="end">38.5</text>
<text transform="translate(98.3,1123.8) scale(0.935,1)" font-family="Liberation Sans, sans-serif" font-size="26" text-anchor="end">38.0</text>
<text transform="translate(98.3,1228.7) scale(0.935,1)" font-family="Liberation Sans, sans-serif" font-size="26" text-anchor="end">37.5</text>
<text transform="translate(98.3,1367.9) scale(0.935,1)" font-family="Liberation Sans, sans-serif" font-size="26" text-anchor="end">37.0</text>
<text x="146.8" y="1392" font-family="Liberation Sans, sans-serif" font-size="24" text-anchor="middle">76.5</text>
<text x="256.5" y="1392" font-family="Liberation Sans, sans-serif" font-size="24" text-anchor="middle">76.0</text>
<text x="357.9" y="1392" font-family="Liberation Sans, sans-serif" font-size="24" text-anchor="middle">75.5</text>
<text x="447.4" y="1392" font-family="Liberation Sans, sans-serif" font-size="24" text-anchor="middle">76.5</text>
<text x="557.1" y="1392" font-family="Liberation Sans, sans-serif" font-size="24" text-anchor="middle">76.0</text>
<text x="658.5" y="1392" font-family="Liberation Sans, sans-serif" font-size="24" text-anchor="middle">75.5</text>
<text x="735.7" y="1392" font-family="Liberation Sans, sans-serif" font-size="24" text-anchor="middle">76.5</text>
<text x="845.0" y="1392" font-family="Liberation Sans, sans-serif" font-size="24" text-anchor="middle">76.0</text>
<text x="946.5" y="1392" font-family="Liberation Sans, sans-serif" font-size="24" text-anchor="middle">75.5</text>
<text x="237" y="746.4" font-family="Liberation Sans, sans-serif" font-size="32.7" text-anchor="middle">Dry</text>
<text x="529.7" y="749.8" font-family="Liberation Sans, sans-serif" font-size="32.7" text-anchor="middle">LTA</text>
<text x="806.9" y="749.8" font-family="Liberation Sans, sans-serif" font-size="32.7" text-anchor="middle">Wet</text>
<text transform="translate(36.8,1158) rotate(-90) scale(0.92,1)" font-family="Liberation Sans, sans-serif" font-size="37.5">Latitude  (<tspan dx="3" dy="-14" font-size="25">o</tspan><tspan dx="4" dy="14">N)</tspan></text>
<text x="421.5" y="1429.6" font-family="Liberation Sans, sans-serif" font-size="32.3">Longitude (<tspan dx="2" dy="-12" font-size="21">o</tspan><tspan dx="1" dy="12">W)</tspan></text>
<rect x="978.7" y="821.6" width="26" height="68.7" fill="#FF0000" stroke="#000" stroke-width="3.6"/>
<rect x="978.7" y="890.3" width="26" height="68.7" fill="#FF6A00" stroke="#000" stroke-width="3.6"/>
<rect x="978.7" y="959.0" width="26" height="68.5" fill="#EEFF0A" stroke="#000" stroke-width="3.6"/>
<rect x="978.7" y="1027.5" width="26" height="69.1" fill="#55FF00" stroke="#000" stroke-width="3.6"/>
<rect x="978.7" y="1096.6" width="26" height="69.0" fill="#80FFE0" stroke="#000" stroke-width="3.6"/>
<rect x="978.7" y="1165.6" width="26" height="68.4" fill="#2266FF" stroke="#000" stroke-width="3.6"/>
<rect x="978.7" y="1234.0" width="26" height="68.3" fill="#BB2EFF" stroke="#000" stroke-width="3.6"/>
<text x="1036" y="899.0" font-family="Liberation Sans, sans-serif" font-size="24" text-anchor="middle">14</text>
<text x="1036" y="967.5" font-family="Liberation Sans, sans-serif" font-size="24" text-anchor="middle">12</text>
<text x="1036" y="1036.0" font-family="Liberation Sans, sans-serif" font-size="24" text-anchor="middle">10</text>
<text x="1033.8" y="1105.5" font-family="Liberation Sans, sans-serif" font-size="24" text-anchor="middle">8</text>
<text x="1033.8" y="1174.1" font-family="Liberation Sans, sans-serif" font-size="24" text-anchor="middle">6</text>
<text x="1033.8" y="1244.5" font-family="Liberation Sans, sans-serif" font-size="24" text-anchor="middle">4</text>
<text x="1033.8" y="1313.5" font-family="Liberation Sans, sans-serif" font-size="24" text-anchor="middle">2</text>
<text x="997.5" y="759" font-family="Liberation Sans, sans-serif" font-size="23" font-style="italic" text-anchor="middle">chl-a</text>
<text transform="translate(1001.5,784.8) scale(1.07,1)" font-family="Liberation Sans, sans-serif" font-size="22.5" text-anchor="middle">(mg m<tspan dy="-10" font-size="15.5">-3</tspan><tspan dy="10">)</tspan></text>
<text x="111" y="796.6" font-family="Liberation Sans, sans-serif" font-size="27.6">(b)</text>
<text x="409" y="800.5" font-family="Liberation Sans, sans-serif" font-size="27.6">(c)</text>
<text x="696.2" y="798.3" font-family="Liberation Sans, sans-serif" font-size="27.6">(d)</text>
</svg>
</body></html>
